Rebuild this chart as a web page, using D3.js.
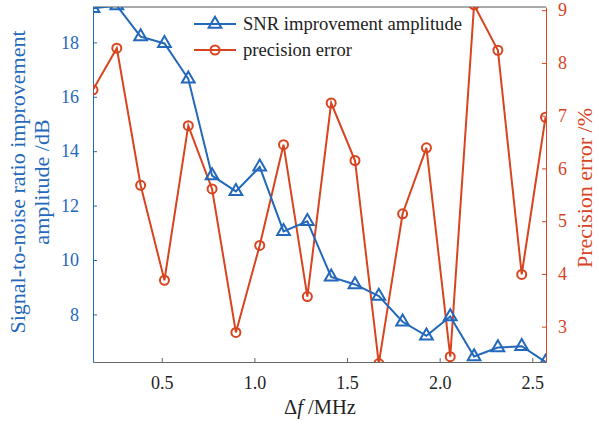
<!DOCTYPE html>
<html>
<head>
<meta charset="utf-8">
<script src="https://cdn.jsdelivr.net/npm/d3@7"></script>
<style>
  body { margin: 0; background: #fff; }
  svg text { font-family: "Liberation Serif", "DejaVu Serif", serif; }
</style>
</head>
<body>
<div id="chart"></div>
<script>
// frequency spacing (MHz)
var freq = [0.1286, 0.2571, 0.3857, 0.5143, 0.6429, 0.7714, 0.9, 1.0286, 1.1571, 1.2857,
            1.4143, 1.5429, 1.6714, 1.8, 1.9286, 2.0571, 2.1857, 2.3143, 2.4429, 2.5714];
// SNR improvement amplitude (dB), left axis
var snr = [19.25, 19.35, 18.21, 17.96, 16.66, 13.1, 12.52, 13.42, 11.05, 11.42,
           9.38, 9.1, 8.67, 7.73, 7.21, 7.92, 6.45, 6.78, 6.83, 6.25];
// precision error (%), right axis
var perr = [7.49, 8.28, 5.68, 3.88, 6.81, 5.61, 2.89, 4.54, 6.45, 3.57,
            7.24, 6.15, 2.3, 5.14, 6.39, 2.43, 9.1, 8.24, 3.99, 6.97];
var xTicks = [0.5, 1.0, 1.5, 2.0, 2.5];
var yLeftTicks = [8, 10, 12, 14, 16, 18];
var yRightTicks = [3, 4, 5, 6, 7, 8, 9];

var blue = "#2368bb", red = "#d8441f";

var W = 599, H = 425;
var margin = {top: 7, right: 53, bottom: 63, left: 93};
var width = W - margin.left - margin.right,
    height = H - margin.top - margin.bottom;

var svg = d3.select("#chart").append("svg")
    .attr("width", W).attr("height", H);

var g = svg.append("g")
    .attr("transform", "translate(" + margin.left + "," + margin.top + ")");

var x = d3.scaleLinear().domain([0.1286, 2.574]).range([0, width]);
var yL = d3.scaleLinear().domain([6.25, 19.3]).range([height, 0]);
var yR = d3.scaleLinear().domain([2.33, 9.06]).range([height, 0]);

g.append("clipPath").attr("id", "clip")
  .append("rect").attr("width", width).attr("height", height);

// top box line
g.append("line").attr("x1", 0).attr("x2", width).attr("y1", 0).attr("y2", 0)
  .attr("stroke", "#555").attr("stroke-width", 1);

// x axis
var xAxis = g.append("g")
  .attr("transform", "translate(0," + height + ")")
  .call(d3.axisBottom(x).tickValues(xTicks).tickFormat(d3.format(".1f"))
    .tickSizeInner(-4).tickSizeOuter(0).tickPadding(14));
xAxis.select(".domain").attr("stroke", "#666");
xAxis.selectAll(".tick line").attr("stroke", "#666");
xAxis.selectAll("text").attr("fill", "#222").style("font-size", "18px");

// left axis
var lAxis = g.append("g")
  .call(d3.axisLeft(yL).tickValues(yLeftTicks)
    .tickSizeInner(-4).tickSizeOuter(0).tickPadding(14));
lAxis.select(".domain").attr("stroke", blue);
lAxis.selectAll(".tick line").attr("stroke", blue);
lAxis.selectAll("text").attr("fill", blue).style("font-size", "18px");

// right axis
var rAxis = g.append("g")
  .attr("transform", "translate(" + width + ",0)")
  .call(d3.axisRight(yR).tickValues(yRightTicks).tickFormat(d3.format("d"))
    .tickSizeInner(-4).tickSizeOuter(0).tickPadding(12));
rAxis.select(".domain").attr("stroke", red);
rAxis.selectAll(".tick line").attr("stroke", red);
rAxis.selectAll("text").attr("fill", red).style("font-size", "18px");

// axis labels
var lt = svg.append("text")
  .attr("transform", "translate(25,182) rotate(-90)")
  .attr("text-anchor", "middle").attr("fill", blue).style("font-size", "22px");
lt.append("tspan").attr("x", 0).attr("dy", "0").text("Signal-to-noise ratio improvement");
lt.append("tspan").attr("x", 0).attr("dy", "24px").text("amplitude /dB");

svg.append("text")
  .attr("transform", "translate(592,188) rotate(-90)")
  .attr("text-anchor", "middle").attr("fill", red).style("font-size", "22px")
  .text("Precision error /%");

var xl = svg.append("text")
  .attr("x", 320).attr("y", 414)
  .attr("text-anchor", "middle").attr("fill", "#222").style("font-size", "20.5px");
xl.append("tspan").text("Δ");
xl.append("tspan").style("font-style", "italic").text("f");
xl.append("tspan").text(" /MHz");

// data
var plot = g.append("g").attr("clip-path", "url(#clip)");
var tri = d3.symbol().type(d3.symbolTriangle).size(70);

var lineL = d3.line().x(function(d, i) { return x(freq[i]); }).y(function(d) { return yL(d); });
var lineR = d3.line().x(function(d, i) { return x(freq[i]); }).y(function(d) { return yR(d); });

plot.append("path").datum(perr).attr("d", lineR)
  .attr("fill", "none").attr("stroke", red).attr("stroke-width", 2);
plot.selectAll(".circ").data(perr).enter().append("circle")
  .attr("cx", function(d, i) { return x(freq[i]); })
  .attr("cy", function(d) { return yR(d); })
  .attr("r", 4.5).attr("fill", "none").attr("stroke", red).attr("stroke-width", 2);

plot.append("path").datum(snr).attr("d", lineL)
  .attr("fill", "none").attr("stroke", blue).attr("stroke-width", 2);
plot.selectAll(".tri").data(snr).enter().append("path")
  .attr("d", tri)
  .attr("transform", function(d, i) { return "translate(" + x(freq[i]) + "," + yL(d) + ")"; })
  .attr("fill", "none").attr("stroke", blue).attr("stroke-width", 2);

// legend
var leg = svg.append("g");
var items = [{label: "SNR improvement amplitude", color: blue, y: 24, m: "tri"},
             {label: "precision error", color: red, y: 50, m: "circ"}];
items.forEach(function(it) {
  leg.append("line").attr("x1", 194).attr("x2", 236).attr("y1", it.y).attr("y2", it.y)
    .attr("stroke", it.color).attr("stroke-width", 2);
  if (it.m === "tri") {
    leg.append("path").attr("d", tri).attr("transform", "translate(215," + it.y + ")")
      .attr("fill", "none").attr("stroke", it.color).attr("stroke-width", 2);
  } else {
    leg.append("circle").attr("cx", 215).attr("cy", it.y).attr("r", 4.5)
      .attr("fill", "none").attr("stroke", it.color).attr("stroke-width", 2);
  }
  leg.append("text").attr("x", 243).attr("y", it.y + 6)
    .attr("fill", "#222").style("font-size", "18.6px").text(it.label);
});
</script>
</body>
</html>
